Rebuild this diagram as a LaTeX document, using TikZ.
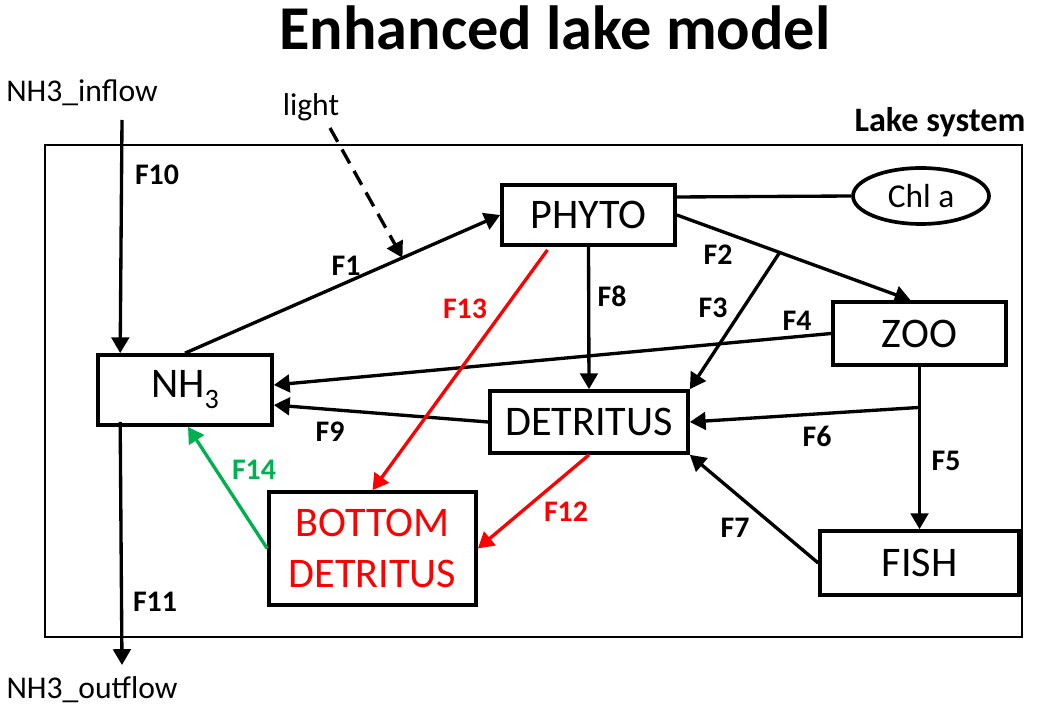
\documentclass[tikz,border=0pt]{standalone}
\usepackage{fontspec}
\setmainfont{Carlito}
\usetikzlibrary{arrows.meta,calc,shapes.geometric}
\definecolor{flowgreen}{RGB}{0,176,80}
\tikzset{
  pool/.style={draw, line width=2.1pt, font=\fontsize{24}{26}\selectfont, inner sep=0pt},
  flow/.style={line width=1.9pt, -{Triangle[length=9pt,width=10pt]}},
  flabel/.style={font=\fontsize{17}{19}\selectfont\bfseries},
  extlabel/.style={font=\fontsize{18}{20}\selectfont}
}
\begin{document}
\begin{tikzpicture}[x=0.02cm, y=-0.02cm]
    \useasboundingbox (0,0) rectangle (1053,712);
    % Title and lake frame
    \node[font=\fontsize{35.5}{38}\selectfont\bfseries] (title) at (555,28) {Enhanced lake model};
    \draw[line width=1pt] (45,145) rectangle (1022,637);
    \node[font=\fontsize{19.5}{21}\selectfont\bfseries] (lake) at (940,122) {Lake system};
    % Pools
    \node[pool, minimum width=3.46cm, minimum height=1.2cm] (phyto) at (588.5,215) {PHYTO};
    \node[pool, minimum width=3.46cm, minimum height=1.26cm] (zoo) at (919.5,333.5) {ZOO};
    \node[pool, minimum width=3.96cm, minimum height=1.24cm] (detritus) at (589,422) {DETRITUS};
    \node[pool, minimum width=3.48cm, minimum height=1.4cm] (nh3) at (185,390)
      {NH\raisebox{-0.55ex}{\fontsize{16}{16}\selectfont 3}};
    \node[pool, minimum width=3.98cm, minimum height=1.28cm] (fish) at (919.5,563) {FISH};
    \node[pool, minimum width=4.14cm, minimum height=2.26cm, text=red, align=center,
      font=\fontsize{24}{29}\selectfont] (bottom) at (372.5,548.5) {BOTTOM\\DETRITUS};
    \node[draw, ellipse, line width=2.1pt, minimum width=2.72cm, minimum height=1.12cm,
      inner sep=0pt, font=\fontsize{19}{21}\selectfont] (chla) at (921,196) {Chl a};
    % Outside the lake
    \node[extlabel] (inflowtxt) at (82,93) {NH3\_inflow};
    \node[extlabel] (outflowtxt) at (92,690) {NH3\_outflow};
    \node[extlabel] (light) at (311,107) {light};
    \coordinate (inflow) at (122,120);
    \coordinate (outflow) at (122,665);
    \coordinate (lightstart) at (330,128);
    % Helper points on lines
    \coordinate (f1mid) at ($(nh3.north)!0.69!(phyto.west)$);
    \coordinate (f2end) at ($(zoo.north)+(-9,0)$);
    \coordinate (f3start) at ($(phyto.east)!0.44!(f2end)$);
    \coordinate (f6start) at ($(zoo.south)!0.25!(fish.north)$);
    % Flows
    \draw[flow] (inflow) -- ($(nh3.north west)+(24,0)$);
    \draw[flow] ($(nh3.south west)+(24,-5)$) -- (outflow);
    \draw[flow] (nh3.north) -- (phyto.west);
    \draw[flow, dashed, dash pattern=on 9pt off 5pt] (lightstart) -- (f1mid);
    \draw[line width=1.9pt] ($(phyto.east)+(0,-18)$) -- (chla.west);
    \draw[flow] (phyto.east) -- (f2end);
    \draw[flow] (f3start) -- (detritus.north east);
    \draw[flow] (phyto.south) -- (detritus.north);
    \draw[flow] (zoo.west) -- ($(nh3.east)+(0,-5)$);
    \draw[flow] (zoo.south) -- (fish.north);
    \draw[flow] (f6start) -- (detritus.east);
    \draw[flow] (fish.west) -- (detritus.south east);
    \draw[flow] (detritus.west) -- ($(nh3.east)+(0,15)$);
    \draw[flow, red] (detritus.south) -- (bottom.east);
    \draw[flow, red] ($(phyto.south)+(-41,3)$) -- (bottom.north);
    \draw[flow, flowgreen] (bottom.west) -- ($(nh3.south)+(3,0)$);
    % Flow labels
    \node[flabel] (l1) at (346,266) {F1};
    \node[flabel] (l2) at (718,255) {F2};
    \node[flabel] (l3) at (713,308) {F3};
    \node[flabel] (l4) at (797,321) {F4};
    \node[flabel] (l5) at (946,461) {F5};
    \node[flabel] (l6) at (817,436) {F6};
    \node[flabel] (l7) at (735,528) {F7};
    \node[flabel] (l8) at (612,296) {F8};
    \node[flabel] (l9) at (330,432) {F9};
    \node[flabel] (l10) at (157,175) {F10};
    \node[flabel] (l11) at (155,602) {F11};
    \node[flabel, red] (l12) at (566,512) {F12};
    \node[flabel, red] (l13) at (465,309) {F13};
    \node[flabel, flowgreen] (l14) at (254,470) {F14};
\end{tikzpicture}
\end{document}
